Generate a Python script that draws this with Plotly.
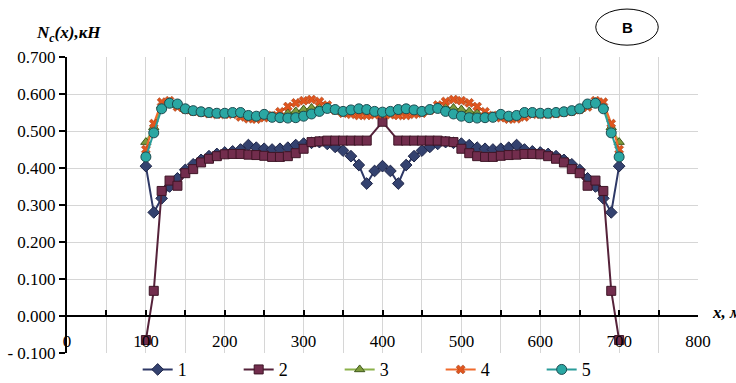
import plotly.graph_objects as go

# ---------------- data ----------------
x_pos = [100, 110, 120, 130, 140, 150, 160, 170, 180, 190,
         200, 210, 220, 230, 240, 250, 260, 270, 280, 290,
         300, 310, 320, 330, 340, 350, 360, 370, 380, 390,
         400, 410, 420, 430, 440, 450, 460, 470, 480, 490,
         500, 510, 520, 530, 540, 550, 560, 570, 580, 590,
         600, 610, 620, 630, 640, 650, 660, 670, 680, 690, 700]

s1 = [0.405, 0.280, 0.318, 0.350, 0.372, 0.395, 0.410, 0.422, 0.432, 0.438,
      0.442, 0.445, 0.450, 0.462, 0.455, 0.452, 0.450, 0.452, 0.455, 0.462,
      0.466, 0.468, 0.470, 0.465, 0.457, 0.447, 0.432, 0.408, 0.358, 0.392,
      0.405, 0.392, 0.358, 0.408, 0.432, 0.447, 0.457, 0.465, 0.470, 0.468,
      0.466, 0.462, 0.455, 0.452, 0.450, 0.452, 0.455, 0.462, 0.450, 0.445,
      0.442, 0.438, 0.432, 0.422, 0.410, 0.395, 0.372, 0.350, 0.318, 0.280, 0.405]

x_pos2 = [100, 110, 120, 130, 140, 150, 160, 170, 180, 190,
          200, 210, 220, 230, 240, 250, 260, 270, 280, 290,
          300, 310, 320, 330, 340, 350, 360, 370, 380,
          400, 420, 430, 440, 450, 460, 470, 480, 490,
          500, 510, 520, 530, 540, 550, 560, 570, 580, 590,
          600, 610, 620, 630, 640, 650, 660, 670, 680, 690, 700]
s2 = [-0.065, 0.068, 0.338, 0.366, 0.352, 0.386, 0.397, 0.415, 0.425, 0.432,
      0.437, 0.438, 0.438, 0.436, 0.435, 0.433, 0.430, 0.430, 0.432, 0.440,
      0.452, 0.470, 0.472, 0.474, 0.474, 0.474, 0.474, 0.474, 0.474,
      0.525, 0.474, 0.474, 0.474, 0.474, 0.474, 0.474, 0.472, 0.470,
      0.452, 0.440, 0.432, 0.430, 0.430, 0.433, 0.435, 0.436, 0.438, 0.438,
      0.437, 0.432, 0.425, 0.415, 0.397, 0.386, 0.352, 0.366, 0.338, 0.068, -0.065]

s3 = [0.470, 0.510, 0.568, 0.578, 0.570, 0.559, 0.554, 0.551, 0.549, 0.547,
      0.547, 0.548, 0.546, 0.540, 0.538, 0.542, 0.540, 0.543, 0.548, 0.553,
      0.558, 0.562, 0.564, 0.565, 0.557, 0.551, 0.552, 0.553, 0.552, 0.550,
      0.549, 0.550, 0.552, 0.553, 0.552, 0.551, 0.557, 0.565, 0.564, 0.562,
      0.558, 0.553, 0.548, 0.543, 0.540, 0.542, 0.538, 0.540, 0.546, 0.548,
      0.547, 0.547, 0.549, 0.551, 0.554, 0.559, 0.570, 0.578, 0.568, 0.510, 0.470]

s4 = [0.450, 0.520, 0.578, 0.582, 0.565, 0.558, 0.553, 0.550, 0.547, 0.545,
      0.545, 0.545, 0.538, 0.533, 0.532, 0.536, 0.542, 0.552, 0.566, 0.576,
      0.582, 0.585, 0.580, 0.570, 0.556, 0.548, 0.545, 0.542, 0.542, 0.544,
      0.546, 0.544, 0.542, 0.542, 0.545, 0.548, 0.556, 0.570, 0.580, 0.585,
      0.582, 0.576, 0.566, 0.552, 0.542, 0.536, 0.532, 0.533, 0.538, 0.545,
      0.545, 0.545, 0.547, 0.550, 0.553, 0.558, 0.565, 0.582, 0.578, 0.520, 0.450]

s5 = [0.430, 0.495, 0.560, 0.575, 0.573, 0.560, 0.555, 0.552, 0.550, 0.548,
      0.548, 0.550, 0.550, 0.542, 0.540, 0.545, 0.537, 0.536, 0.535, 0.536,
      0.540, 0.546, 0.553, 0.561, 0.558, 0.553, 0.557, 0.560, 0.558, 0.553,
      0.551, 0.553, 0.558, 0.560, 0.557, 0.553, 0.558, 0.561, 0.553, 0.546,
      0.540, 0.536, 0.535, 0.536, 0.537, 0.545, 0.540, 0.542, 0.550, 0.550,
      0.548, 0.548, 0.550, 0.552, 0.555, 0.560, 0.573, 0.575, 0.560, 0.495, 0.430]

names = ["1", "2", "3", "4", "5"]
y_tickvals = [-0.1, 0.0, 0.1, 0.2, 0.3, 0.4, 0.5, 0.6, 0.7]
y_ticktext = ["- 0.100", "0.000", "0.100", "0.200", "0.300", "0.400", "0.500", "0.600", "0.700"]
x_tickvals = [0, 100, 200, 300, 400, 500, 600, 700, 800]
x_ticktext = ["0", "100", "200", "300", "400", "500", "600", "700", "800"]

# --------------- figure ---------------
SERIF = "'Liberation Serif', 'Times New Roman', 'DejaVu Serif', serif"
GRID = "#D6D6D6"

fig = go.Figure()

fig.add_trace(go.Scatter(
    x=x_pos, y=s1, name=names[0], mode="lines+markers",
    line=dict(color="#2E3866", width=2),
    marker=dict(symbol="diamond", size=9, color="#34426F", line=dict(color="#1E2548", width=1))))
fig.add_trace(go.Scatter(
    x=x_pos2, y=s2, name=names[1], mode="lines+markers",
    line=dict(color="#55223A", width=2),
    marker=dict(symbol="square", size=9, color="#722D4D", line=dict(color="#3E1526", width=1))))
fig.add_trace(go.Scatter(
    x=x_pos, y=s3, name=names[2], mode="lines+markers",
    line=dict(color="#8BB14A", width=2),
    marker=dict(symbol="triangle-up", size=9, color="#7E9B3C", line=dict(color="#3F5A1C", width=1))))
fig.add_trace(go.Scatter(
    x=x_pos, y=s4, name=names[3], mode="lines+markers",
    line=dict(color="#F06A2C", width=2),
    marker=dict(symbol="x", size=8, color="#E0551E", line=dict(color="#9A3A10", width=0.5))))
fig.add_trace(go.Scatter(
    x=x_pos, y=s5, name=names[4], mode="lines+markers",
    line=dict(color="#2A9C9A", width=2),
    marker=dict(symbol="circle", size=10, color="#2AA7A3", line=dict(color="#1D4B50", width=1))))

# dummy trace so that the crossing x-axis at y=0 is drawn
fig.add_trace(go.Scatter(x=[None], y=[None], xaxis="x2", yaxis="y",
                         showlegend=False, hoverinfo="skip"))

fig.update_layout(
    width=736, height=383,
    margin=dict(l=67, r=38, t=57, b=30, autoexpand=False),
    paper_bgcolor="white", plot_bgcolor="white",
    font=dict(family=SERIF, size=16, color="black"),
    showlegend=True,
    legend=dict(orientation="h", x=0.112, xanchor="left", y=0.006, yanchor="top",
                entrywidth=56, entrywidthmode="pixels",
                font=dict(family=SERIF, size=18, color="black"),
                bgcolor="rgba(0,0,0,0)", tracegroupgap=0),
    xaxis=dict(range=[0, 800], tickvals=x_tickvals, ticktext=x_ticktext,
               showticklabels=True, ticklabelposition="inside", ticklabeloverflow="allow",
               ticks="", showline=False, zeroline=False,
               showgrid=True, gridcolor=GRID, gridwidth=1,
               minor=dict(dtick=50, tick0=0, showgrid=True, gridcolor=GRID, gridwidth=1),
               tickfont=dict(family=SERIF, size=17, color="black")),
    xaxis2=dict(range=[0, 800], overlaying="x", anchor="free", position=0.125, side="bottom",
                showline=True, linecolor="black", linewidth=2,
                ticks="inside", ticklen=5, tickwidth=1.5, tickcolor="black",
                dtick=50, tick0=0, showticklabels=False, showgrid=False, zeroline=False),
    yaxis=dict(range=[-0.1, 0.7], tickvals=y_tickvals, ticktext=y_ticktext,
               showline=True, linecolor="black", linewidth=2,
               ticks="outside", ticklen=6, tickwidth=2, tickcolor="black",
               showgrid=True, gridcolor=GRID, gridwidth=1, zeroline=False,
               tickfont=dict(family=SERIF, size=17, color="black")),
)

# axis titles
fig.add_annotation(text="<b><i>N</i></b><sub><b><i>c</i></b></sub><b><i>(x),кН</i></b>",
                   xref="paper", yref="paper", x=-0.052, y=1.078,
                   xanchor="left", yanchor="middle", showarrow=False,
                   font=dict(family=SERIF, size=17, color="black"))
fig.add_annotation(text="<b><i>x, м</i></b>",
                   xref="paper", yref="paper", x=1.019, y=0.137,
                   xanchor="left", yanchor="middle", showarrow=False,
                   font=dict(family=SERIF, size=17, color="black"))

# "В" label in an ellipse
fig.add_shape(type="circle", xref="paper", yref="paper",
              x0=0.838, x1=0.937, y0=1.040, y1=1.162,
              line=dict(color="black", width=1), fillcolor="rgba(0,0,0,0)")
fig.add_annotation(text="<b>В</b>", xref="paper", yref="paper", x=0.8875, y=1.101,
                   xanchor="center", yanchor="middle", showarrow=False,
                   font=dict(family="Liberation Sans, Arial, sans-serif", size=15, color="black"))

fig.write_html("out.html")
